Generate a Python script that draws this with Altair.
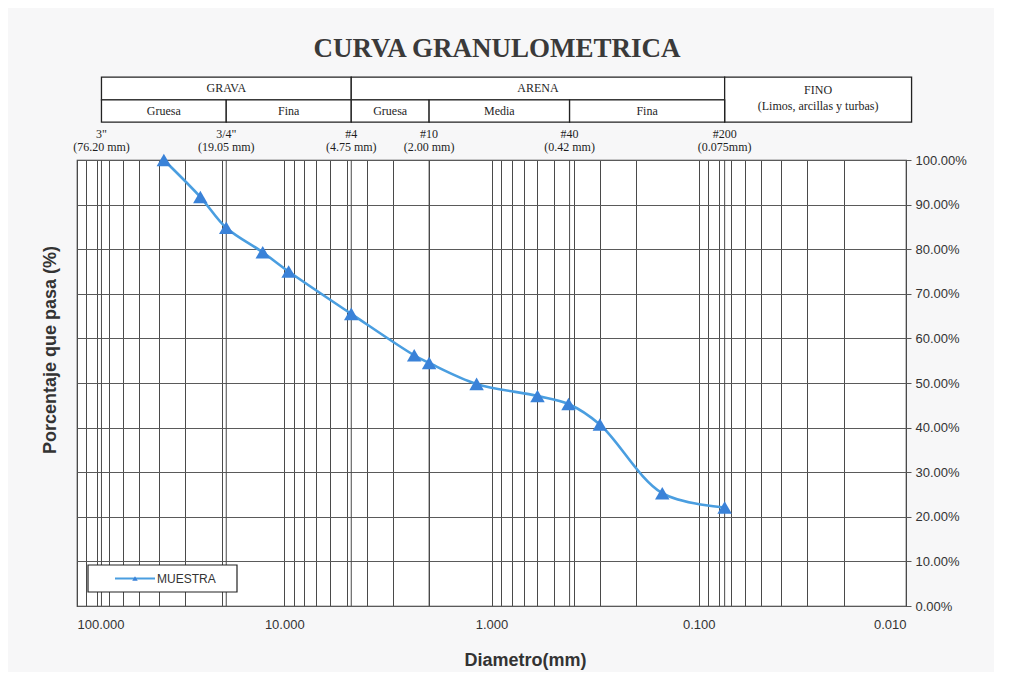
import math
import altair as alt
import pandas as pd

# ---------------- data ----------------
diam_mm = [38.1, 25.4, 19.05, 12.7, 9.525, 4.75, 2.36, 2.00, 1.18, 0.60, 0.425, 0.30, 0.15, 0.075]
pasa = [1.000, 0.917, 0.848, 0.793, 0.750, 0.655, 0.562, 0.545, 0.498, 0.471, 0.453, 0.407, 0.253, 0.221]
serie = "MUESTRA"

sieve_mm = [76.2, 19.05, 4.75, 2.00, 0.42, 0.075]
sieve_name = ['3"', '3/4"', '#4', '#10', '#40', '#200']
sieve_size = ['(76.20 mm)', '(19.05 mm)', '(4.75 mm)', '(2.00 mm)', '(0.42 mm)', '(0.075mm)']

x_ticks = [k * 10.0 ** e for e in range(-2, 2) for k in range(1, 10)] + [100.0]
y_ticks = [i / 10 for i in range(11)]

# header table (left/right edges in mm, top/bottom in y-units above 100%)
cell_left = [76.2, 4.75, 0.075, 76.2, 19.05, 4.75, 2.00, 0.42]
cell_right = [4.75, 0.075, 0.0094, 19.05, 4.75, 2.00, 0.42, 0.075]
cell_top = [1.186, 1.186, 1.186, 1.135, 1.135, 1.135, 1.135, 1.135]
cell_bottom = [1.135, 1.135, 1.085, 1.085, 1.085, 1.085, 1.085, 1.085]
cell_text = ["GRAVA", "ARENA", "", "Gruesa", "Fina", "Gruesa", "Media", "Fina"]
fino_text = ["FINO", "(Limos, arcillas y turbas)"]
fino_y = [1.156, 1.122]

title_text = "CURVA GRANULOMETRICA"
x_title = "Diametro(mm)"
y_title = "Porcentaje que pasa (%)"

# ---------------- styles ----------------
W, H = 829, 446
LINE_BLUE = "#4a9ee0"
MARK_BLUE = "#3a82d8"
GRID = "#4a4a4a"
SERIF = "Liberation Serif"
SANS = "Liberation Sans"
TXT = "#1e1e1e"

xscale = alt.Scale(type="log", domain=[100, 0.01], nice=False)
yscale = alt.Scale(domain=[0, 1], nice=False, zero=False)

# ---------------- frames ----------------
curve = pd.DataFrame({"d": diam_mm, "p": pasa, "s": serie})
sieves = pd.DataFrame({"d": sieve_mm, "name": sieve_name, "size": sieve_size})
cells = pd.DataFrame({
    "l": cell_left, "r": cell_right, "t": cell_top, "b": cell_bottom, "txt": cell_text,
})
cells["cx"] = [math.sqrt(a * b) for a, b in zip(cell_left, cell_right)]
cells["cy"] = [(a + b) / 2 for a, b in zip(cell_top, cell_bottom)]
fino = pd.DataFrame({"t": fino_text, "y": fino_y,
                     "x": [math.sqrt(0.075 * 0.0094)] * 2})

x_axis = alt.Axis(values=x_ticks, grid=True, gridColor=GRID, gridWidth=1, gridOpacity=1,
                  labelExpr="abs(log(datum.value)/LN10 - round(log(datum.value)/LN10)) < 1e-6 ? format(datum.value, '.3f') : ''",
                  labelOverlap=False, labelFont=SANS, labelFontSize=13, labelColor="#333",
                  labelPadding=12, ticks=False, domain=False,
                  title=x_title, titleFont=SANS, titleFontSize=18, titleFontWeight="bold",
                  titleColor="#333", titleX=448, titleY=54, titleAlign="center",
                  titleBaseline="middle")
y_axis = alt.Axis(values=y_ticks, orient="right", format=".2%", grid=True, gridColor="#5a5a5a",
                  gridWidth=1, gridOpacity=1, labelFont=SANS, labelFontSize=13,
                  labelColor="#333", tickSize=5, tickColor="#555", domain=False, labelPadding=4,
                  title=None)

base = alt.Chart(curve)

grid_holder = base.mark_point(opacity=0).encode(
    x=alt.X("d:Q", scale=xscale, axis=x_axis),
    y=alt.Y("p:Q", scale=yscale, axis=y_axis),
)

sieve_rules = alt.Chart(sieves).mark_rule(color=GRID, strokeWidth=1).encode(
    x=alt.X("d:Q", scale=xscale)
)

line = base.mark_line(color=LINE_BLUE, strokeWidth=2.6, interpolate="catmull-rom").encode(
    x=alt.X("d:Q", scale=xscale), y=alt.Y("p:Q", scale=yscale)
)
points = base.mark_point(shape="triangle-up", filled=True, size=210, color=MARK_BLUE, opacity=1).encode(
    x=alt.X("d:Q", scale=xscale), y=alt.Y("p:Q", scale=yscale)
)

sieve_lbl1 = alt.Chart(sieves).mark_text(font=SERIF, fontSize=12, color=TXT, baseline="middle").encode(
    x=alt.X("d:Q", scale=xscale), y=alt.datum(1.058), text="name:N"
)
sieve_lbl2 = alt.Chart(sieves).mark_text(font=SERIF, fontSize=12, color=TXT, baseline="middle").encode(
    x=alt.X("d:Q", scale=xscale), y=alt.datum(1.030), text="size:N"
)

cell_rect = alt.Chart(cells).mark_rect(fill="white", stroke="#222", strokeWidth=1.3).encode(
    x=alt.X("l:Q", scale=xscale), x2="r:Q",
    y=alt.Y("t:Q", scale=yscale), y2="b:Q",
)
cell_lbl = alt.Chart(cells).mark_text(font=SERIF, fontSize=12, color=TXT, baseline="middle").encode(
    x=alt.X("cx:Q", scale=xscale), y=alt.Y("cy:Q", scale=yscale), text="txt:N"
)
fino_lbl = alt.Chart(fino).mark_text(font=SERIF, fontSize=12, color=TXT, baseline="middle").encode(
    x=alt.X("x:Q", scale=xscale), y=alt.Y("y:Q", scale=yscale), text="t:N"
)

deco = pd.DataFrame({"t": [title_text]})
title = alt.Chart(deco).mark_text(font=SERIF, fontSize=27, fontWeight="bold", color="#3a3a3a",
                                  baseline="middle").encode(
    x=alt.value(420), y=alt.value(-111), text="t:N"
)
ytitle = alt.Chart(pd.DataFrame({"t": [y_title]})).mark_text(
    font=SANS, fontSize=18, fontWeight="bold", color="#333", angle=270, baseline="middle"
).encode(x=alt.value(-26), y=alt.value(190), text="t:N")

# legend (manual, bottom-left box)
leg = pd.DataFrame({"t": [serie]})
leg_box = alt.Chart(leg).mark_rect(fill="white", stroke="#222", strokeWidth=1.2).encode(
    x=alt.value(11), x2=alt.value(160), y=alt.value(405), y2=alt.value(432)
)
leg_line = alt.Chart(leg).mark_rule(color=LINE_BLUE, strokeWidth=2).encode(
    x=alt.value(38), x2=alt.value(78), y=alt.value(418.5)
)
leg_pt = alt.Chart(leg).mark_point(shape="triangle-up", filled=True, size=30, color=MARK_BLUE, opacity=1).encode(
    x=alt.value(58), y=alt.value(418.5)
)
leg_txt = alt.Chart(leg).mark_text(font=SANS, fontSize=12, color="#333", align="left", baseline="middle").encode(
    x=alt.value(80), y=alt.value(418.5), text="t:N"
)

chart = alt.layer(
    grid_holder, sieve_rules, line, points, sieve_lbl1, sieve_lbl2,
    cell_rect, cell_lbl, fino_lbl, title, ytitle, leg_box, leg_line, leg_pt, leg_txt,
).properties(
    width=W, height=H,
    autosize=alt.AutoSizeParams(type="none"),
    padding={"left": 69, "top": 152, "right": 88, "bottom": 66},
    background="#f7f7f8",
).configure_view(stroke="#333", strokeWidth=1.2, fill="white")

chart.save("out.html", embed_options={"renderer": "svg", "actions": False})
